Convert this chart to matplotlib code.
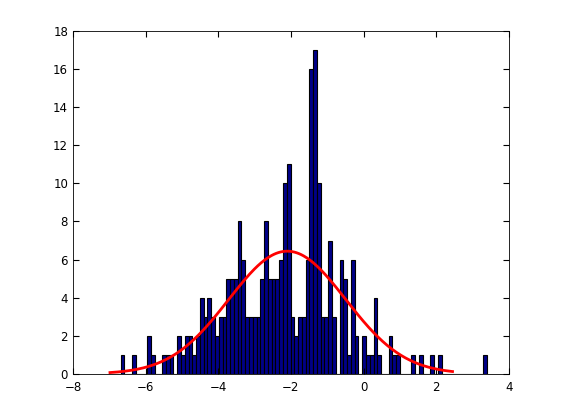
import numpy as np
import matplotlib
matplotlib.use("Agg")
import matplotlib.pyplot as plt

# histogram: 100 bins between data min and max
x_min, x_max = -7.0, 3.395
counts = [0,0,0,1,0,0,1,0,0,0, 2,1,0,0,1,1,1,0,2,1,
          2,2,1,2,4,3,4,3,2,3, 3,5,5,5,8,6,3,3,3,3,
          5,8,5,5,5,6,10,11,3,2, 3,3,6,16,17,10,3,3,7,3,
          0,6,5,1,6,2,0,2,1,1, 4,1,0,0,2,1,1,0,0,0,
          1,0,1,0,0,1,0,1,0,0, 0,0,0,0,0,0,0,0,0,1]
# fitted normal
mu, sigma = -2.1, 1.61
curve_lo, curve_hi = -6.98, 2.45

edges = np.linspace(x_min, x_max, len(counts) + 1)
width = edges[1] - edges[0]
N = sum(counts)

fig = plt.figure(figsize=(5.61, 4.2), dpi=100)
ax = fig.add_axes([0.130, 0.110, 0.777, 0.816])
ax.bar(edges[:-1], counts, width=width, align='edge', color='#000088',
       edgecolor='black', linewidth=0.8)
xs = np.linspace(curve_lo, curve_hi, 300)
ys = N * width / (sigma * np.sqrt(2 * np.pi)) * np.exp(-0.5 * ((xs - mu) / sigma) ** 2)
ax.plot(xs, ys, color='red', linewidth=2)

ax.set_xlim(-8, 4)
ax.set_ylim(0, 18)
ax.set_xticks(range(-8, 5, 2))
ax.set_yticks(range(0, 19, 2))
ax.tick_params(direction='in', top=True, right=True, labelsize=8.5, length=4)
ax.tick_params(axis='x', pad=5)
for s in ax.spines.values():
    s.set_linewidth(0.6)
fig.savefig("out.png", dpi=100)
